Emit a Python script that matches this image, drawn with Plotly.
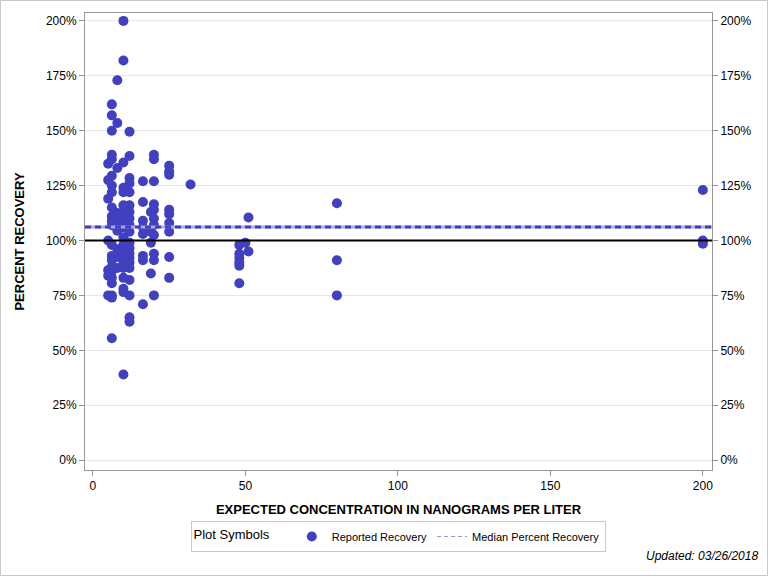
import plotly.graph_objects as go

# Expected concentration (ng/L) and percent recovery
conc = (
    [5]*7
    + [6.2]*22
    + [8]*11
    + [10]*20
    + [12]*20
    + [16.4]*8
    + [19]*4
    + [20]*11
    + [25]*9
    + [32]
    + [48]*6 + [50] + [51]*2
    + [80]*3
    + [200]*3
)
recovery = (
    [135, 127.5, 119, 100, 86.5, 84, 75]
    + [162, 157, 150, 139, 137, 129.5, 125, 122, 115, 111, 109, 107, 98, 93, 91, 88, 86, 83, 80.5, 75, 74, 55.5]
    + [173, 153.5, 133, 112.5, 110, 108.5, 104.5, 96, 94, 92.5, 87.5]
    + [200, 182, 135.5, 124, 122, 116, 113, 111, 108.5, 106, 101.5, 98, 95.5, 92.5, 90, 87.5, 83, 78, 76.5, 39]
    + [149.5, 138.5, 128.5, 126, 122, 116, 113, 110, 107, 104, 99, 96.5, 94, 92, 90, 87.5, 82, 75, 65, 63]
    + [127, 117.5, 109, 106, 103, 93, 91, 71]
    + [113, 104, 99, 85]
    + [139, 137, 127, 116.5, 114, 110, 107, 102.5, 94, 91, 75]
    + [134, 131.5, 130, 114, 112, 108, 104, 92.5, 83]
    + [125.5]
    + [98, 94, 92, 90, 88.5, 80.5, 99, 110.5, 95]
    + [117, 91, 75]
    + [123, 100, 98.5]
)
median_recovery = 106.2
y_ticks = [0, 25, 50, 75, 100, 125, 150, 175, 200]
y_tick_labels = [f"{v}%" for v in y_ticks]
x_ticks = [0, 50, 100, 150, 200]

BLUE = "rgb(64,64,192)"
FONT = "Liberation Sans, Arial, sans-serif"

fig = go.Figure()
fig.add_trace(go.Scatter(
    x=conc, y=recovery, mode="markers", name="Reported Recovery",
    marker=dict(color=BLUE, size=10, line=dict(width=0)),
))
fig.add_trace(go.Scatter(
    x=[None], y=[None], mode="lines", name="Median Percent Recovery",
    line=dict(color="rgb(150,150,220)", width=1, dash="4px,3px"),
))
fig.add_trace(go.Scatter(x=[None], y=[None], yaxis="y2", showlegend=False))

L, R, T, B = 85, 712, 13, 470
W, H = 768, 576
pw, ph = R - L, B - T

fig.add_shape(type="line", xref="paper", yref="y", x0=0, x1=1, y0=100, y1=100,
              line=dict(color="black", width=2))
fig.add_shape(type="line", xref="paper", yref="y", x0=0, x1=1, y0=median_recovery, y1=median_recovery,
              line=dict(color="rgb(170,170,230)", width=3))
fig.add_shape(type="line", xref="paper", yref="y", x0=0, x1=1, y0=median_recovery, y1=median_recovery,
              line=dict(color=BLUE, width=3, dash="6px,4px"))
fig.add_shape(type="rect", xref="paper", yref="paper",
              x0=(0.5 - L) / pw, x1=(W - 0.5 - L) / pw,
              y0=(B - (H - 0.5)) / ph, y1=(B - 0.5) / ph,
              line=dict(color="rgb(200,200,200)", width=1), layer="below")

fig.add_annotation(text="<i>Updated: 03/26/2018</i>", xref="paper", yref="paper",
                   x=(760 - L) / pw, y=(B - 556) / ph, xanchor="right", yanchor="middle",
                   showarrow=False, font=dict(family=FONT, size=12, color="black"))

axis_line = dict(showline=True, linecolor="rgb(150,150,150)", linewidth=1,
                 ticks="outside", ticklen=5, tickcolor="rgb(150,150,150)", automargin=False)
fig.update_layout(
    width=W, height=H,
    margin=dict(l=L, r=W - R, t=T, b=H - B, autoexpand=False),
    paper_bgcolor="white", plot_bgcolor="white",
    font=dict(family=FONT, size=12, color="black"),
    showlegend=True,
    legend=dict(orientation="h", xref="container", yref="container",
                x=398 / W, xanchor="center", y=1 - 521 / H, yanchor="top",
                bordercolor="rgb(200,200,200)", borderwidth=1,
                title=dict(text="Plot Symbols    ", font=dict(size=13)),
                font=dict(size=11), itemwidth=30, tracegroupgap=0),
    xaxis=dict(range=[-2.6, 203], tickvals=x_ticks, showgrid=False, zeroline=False,
               mirror=True,
               title=dict(text="<b>EXPECTED CONCENTRATION IN NANOGRAMS PER LITER</b>",
                          font=dict(size=13), standoff=12),
               **axis_line),
    yaxis=dict(range=[-4.5, 203.6], tickvals=y_ticks, ticktext=y_tick_labels, showgrid=True,
               gridcolor="rgb(230,230,230)", zeroline=False,
               title=dict(text="<b>PERCENT RECOVERY</b>", font=dict(size=13), standoff=18),
               **axis_line),
    yaxis2=dict(range=[-4.5, 203.6], tickvals=y_ticks, ticktext=y_tick_labels, overlaying="y",
                side="right", showgrid=False, zeroline=False, **axis_line),
)

fig.write_html("out.html", config={"displayModeBar": False},
               post_script="document.body.style.margin='0';")
